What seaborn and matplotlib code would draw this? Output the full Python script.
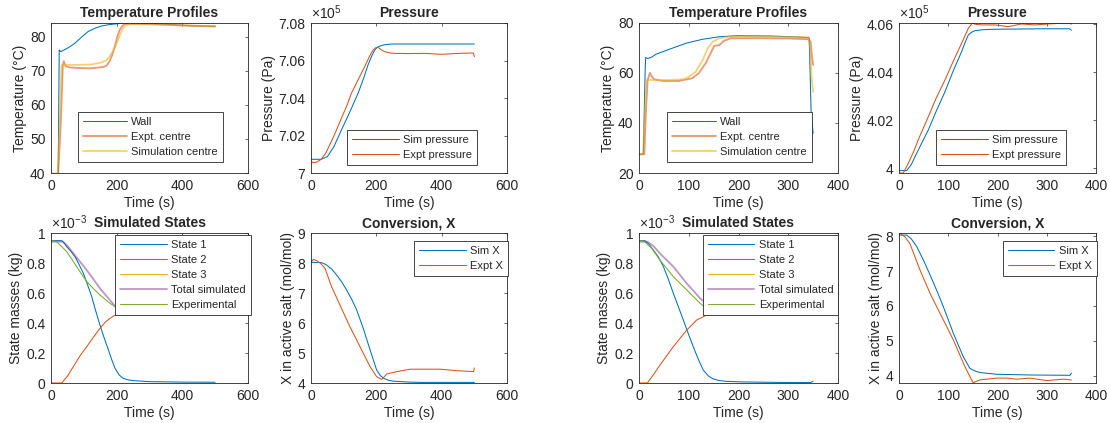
import numpy as np
import pandas as pd
import matplotlib
matplotlib.use('Agg')
import matplotlib.pyplot as plt
import seaborn as sns
from matplotlib.ticker import FuncFormatter

# ---------------- data: run 1 (left half) ----------------
t_wall1 = [0, 22, 25, 30, 50, 72, 90, 113, 135, 153, 175, 194, 224, 260, 300, 350, 400, 450, 500]
T_wall1 = [39.8, 39.8, 76.1, 75.6, 76.6, 78.0, 79.6, 81.5, 82.5, 83.1, 83.5, 83.7, 84.0, 84.0, 83.9, 83.6, 83.3, 83.1, 83.0]
t_exc1 = [0, 22, 30, 36, 39, 44, 55, 80, 120, 160, 170, 178, 186, 194, 202, 209, 216, 224, 240, 300, 400, 500]
T_exc1 = [39.8, 39.8, 55.0, 71.5, 72.8, 71.4, 71.0, 70.8, 70.7, 71.1, 71.6, 72.7, 74.5, 77.0, 80.0, 81.9, 83.0, 83.7, 83.8, 83.7, 83.3, 83.0]
t_sic1 = [0, 20, 27, 32, 40, 80, 120, 153, 168, 178, 190, 204, 212, 219, 228, 240, 300, 400, 500]
T_sic1 = [39.8, 39.8, 55.0, 71.7, 71.7, 71.7, 71.8, 72.4, 73.0, 74.1, 76.0, 79.0, 81.0, 82.4, 83.3, 83.7, 83.6, 83.3, 83.0]

t_simP1 = [0, 31, 50, 70, 93, 120, 144, 160, 174.5, 185, 195, 203, 210.6, 225, 246, 300, 400, 500]
simP1 = np.array([7.0073, 7.0073, 7.0087, 7.0140, 7.0229, 7.0330, 7.0425, 7.0500, 7.0576, 7.0620,
                  7.0656, 7.0670, 7.0677, 7.0684, 7.0688, 7.0688, 7.0688, 7.0688]) * 1e5
t_expP1 = [0, 5, 11, 20, 31, 45, 60, 72, 93, 110, 123.5, 145, 164.3, 180, 190, 198, 205.5, 215, 226,
           240, 257, 300, 349, 400, 451, 497, 500]
expP1 = np.array([7.0062, 7.0057, 7.0055, 7.0060, 7.0073, 7.0105, 7.0160, 7.0205, 7.0292, 7.0360, 7.0425,
                  7.0500, 7.0567, 7.0625, 7.0656, 7.0668, 7.0670, 7.0657, 7.0647, 7.0641, 7.0638, 7.0637,
                  7.0638, 7.0633, 7.0638, 7.0640, 7.0620]) * 1e5

t_s1_1 = [0, 32.5, 40, 47.7, 60, 73, 85, 98.5, 111, 124, 136, 149, 162, 175, 185, 195, 207, 220, 235, 250, 300, 400, 500]
s1_1 = np.array([0.949, 0.949, 0.935, 0.909, 0.88, 0.842, 0.792, 0.731, 0.657, 0.576, 0.482, 0.387, 0.30, 0.22,
                 0.155, 0.098, 0.055, 0.031, 0.021, 0.016, 0.009, 0.006, 0.005]) * 1e-3
t_s2_1 = [0, 32.5, 50, 68, 88, 108.8, 129, 149, 165, 179.5, 195, 205, 220, 250, 300, 500]
s2_1 = np.array([0, 0, 0.045, 0.109, 0.18, 0.242, 0.305, 0.364, 0.405, 0.431, 0.452, 0.462, 0.475, 0.488, 0.494, 0.496]) * 1e-3
t_s3_1 = [0, 250, 500]
s3_1 = np.array([0, 0, 0]) * 1e-3
t_tot1 = [0, 35, 50, 68, 88, 108.8, 129, 149, 165, 179.5, 195, 210, 230, 260, 300, 400, 500]
tot1 = np.array([0.942, 0.942, 0.915, 0.864, 0.81, 0.753, 0.692, 0.631, 0.59, 0.553, 0.512, 0.505, 0.502, 0.50, 0.50, 0.50, 0.50]) * 1e-3
t_exm1 = [0, 17, 30, 47.7, 63, 78, 93, 108.8, 129, 149, 165, 179.5, 195, 210, 216, 232, 263, 304, 355, 400, 447, 500]
exm1 = np.array([0.951, 0.942, 0.915, 0.876, 0.826, 0.776, 0.726, 0.676, 0.63, 0.587, 0.558, 0.531, 0.509, 0.49,
                 0.485, 0.5, 0.51, 0.52, 0.52, 0.52, 0.515, 0.51]) * 1e-3

t_simX1 = [0, 27.5, 38, 48, 63, 78.5, 94, 109, 125, 140, 160, 181, 201, 212, 222, 237, 252.6, 300, 334, 400, 500]
simX1 = [8.02, 8.02, 7.99, 7.93, 7.8, 7.6, 7.37, 7.1, 6.78, 6.43, 5.82, 5.1, 4.43, 4.25, 4.16, 4.09, 4.06, 4.03, 4.02, 4.02, 4.02]
t_expX1 = [0, 7, 17, 30, 43, 63, 88.6, 119, 150, 181, 201, 216.6, 232, 263, 304, 355, 396, 447, 498, 500]
expX1 = [8.02, 8.12, 8.08, 7.98, 7.82, 7.21, 6.6, 5.88, 5.21, 4.54, 4.21, 4.12, 4.3, 4.38, 4.46, 4.46, 4.46, 4.41, 4.38, 4.5]

# ---------------- data: run 2 (right half) ----------------
t_wall2 = [0, 8.7, 12.5, 13.4, 17.4, 25, 34, 61, 94.5, 128, 161.5, 195, 262, 320, 342, 344, 346, 350]
T_wall2 = [27.5, 27.5, 62.0, 66.2, 65.8, 66.3, 67.5, 69.5, 71.9, 73.5, 74.5, 74.9, 74.8, 74.4, 74.1, 60.0, 44.0, 35.9]
t_exc2 = [0, 10.7, 14, 17.4, 22, 26, 30.5, 47, 80, 107, 120, 134, 144, 151, 156, 161.5, 171, 185, 250, 300, 341, 345, 348, 350]
T_exc2 = [27.5, 27.5, 45.0, 57.2, 60.1, 58.5, 57.5, 56.8, 56.8, 57.9, 59.9, 63.9, 67.9, 70.8, 71.0, 71.2, 72.9, 73.9,
          73.9, 73.8, 73.5, 72.5, 66.0, 63.2]
t_sic2 = [0, 8, 12, 15, 30, 60, 90, 100, 114, 128, 138, 148, 161.5, 181, 250, 340, 344, 347, 350]
T_sic2 = [27.5, 27.5, 45.0, 57.2, 57.2, 57.2, 57.5, 58.5, 60.5, 65.2, 69.9, 72.5, 73.9, 74.5, 74.5, 74.3, 70.0, 58.0, 52.5]

t_simP2 = [0, 15.6, 25, 32.5, 45, 59.6, 75, 93.4, 110, 127.2, 135, 140.7, 147, 154, 170, 195, 250, 296, 346, 350]
simP2 = np.array([3.999, 3.999, 4.0015, 4.0048, 4.0100, 4.016, 4.0235, 4.0319, 4.0405, 4.0486, 4.0528, 4.0555,
                  4.0566, 4.0573, 4.0577, 4.0579, 4.0580, 4.0581, 4.0581, 4.0575]) * 1e5
t_expP2 = [0, 8.8, 18.9, 30, 39, 59.6, 75, 93.4, 110, 127.2, 140.7, 148.8, 155, 167.7, 195, 222, 249, 276, 303, 330, 347, 350]
expP2 = np.array([3.998, 3.998, 4.0021, 4.0070, 4.0118, 4.0215, 4.0290, 4.0368, 4.0445, 4.0521, 4.0583, 4.0604,
                  4.0600, 4.0597, 4.0597, 4.0590, 4.0601, 4.0597, 4.0601, 4.0604, 4.0604, 4.0600]) * 1e5

t_s1_2 = [0, 12, 20, 28.8, 39, 49, 59, 69, 79, 89, 99, 109, 119, 129, 139, 149, 162, 176, 210, 280, 345, 350]
s1_2 = np.array([0.949, 0.949, 0.925, 0.887, 0.84, 0.776, 0.692, 0.598, 0.51, 0.42, 0.33, 0.242, 0.16, 0.087,
                 0.048, 0.027, 0.016, 0.011, 0.007, 0.004, 0.003, 0.012]) * 1e-3
t_s2_2 = [0, 16.8, 30, 42.2, 69, 96, 116, 136, 150, 170, 200, 250, 350]
s2_2 = np.array([0, 0, 0.06, 0.12, 0.242, 0.353, 0.42, 0.453, 0.468, 0.48, 0.485, 0.487, 0.488]) * 1e-3
t_s3_2 = [0, 175, 350]
s3_2 = np.array([0, 0, 0]) * 1e-3
t_tot2 = [0, 17, 30, 42, 69, 96, 123, 143, 156, 170, 200, 250, 350]
tot2 = np.array([0.942, 0.942, 0.91, 0.864, 0.776, 0.664, 0.564, 0.508, 0.49, 0.485, 0.49, 0.49, 0.49]) * 1e-3
t_exm2 = [0, 10, 25, 42, 69, 96, 123, 143, 150, 156, 165, 200, 250, 300, 350]
exm2 = np.array([0.95, 0.945, 0.9, 0.82, 0.709, 0.62, 0.531, 0.476, 0.468, 0.466, 0.47, 0.475, 0.475, 0.473, 0.472]) * 1e-3

t_simX2 = [0, 15.6, 25, 36, 50, 63, 77, 90, 110.5, 130.6, 144, 155, 164.6, 198.5, 266, 347, 350]
simX2 = [8.03, 8.03, 7.92, 7.7, 7.3, 6.89, 6.43, 5.98, 5.21, 4.54, 4.21, 4.13, 4.09, 4.04, 4.02, 4.01, 4.07]
t_expX2 = [0, 5, 12, 22, 42.6, 63, 90, 110.5, 130.6, 144, 150.7, 164.6, 198.5, 219, 239, 266, 300, 334, 347, 350]
expX2 = [8.09, 8.05, 7.98, 7.79, 7.03, 6.36, 5.6, 5.02, 4.36, 3.97, 3.80, 3.88, 3.93, 3.93, 3.90, 3.93, 3.86, 3.9, 3.88, 3.88]

# ---------------- style ----------------
sns.set_style('white')
plt.rcParams['font.family'] = ['Liberation Sans', 'DejaVu Sans']
plt.rcParams['mathtext.fontset'] = 'custom'
plt.rcParams['mathtext.rm'] = 'Liberation Sans'
plt.rcParams['mathtext.it'] = 'Liberation Sans:italic'
plt.rcParams['mathtext.bf'] = 'Liberation Sans:bold'

BLUE = '#0072BD'; ORANGE = '#D95319'; YELLOW = '#EDB120'; PURPLE = '#7E2F8E'; GREEN = '#77AC30'
AX = '#262626'
W, H = 1110, 423

fig = plt.figure(figsize=(W / 100, H / 100), dpi=100)


def px_axes(x0, x1, y0, y1):
    return fig.add_axes([x0 / W, 1 - y1 / H, (x1 - x0) / W, (y1 - y0) / H])


def draw(ax, t, v, color, label, lw=0.75, alpha=1.0):
    df = pd.DataFrame({'t': t, 'v': np.asarray(v, dtype=float)})
    sns.lineplot(data=df, x='t', y='v', ax=ax, color=color, label=label,
                 linewidth=lw, alpha=alpha, sort=False, estimator=None)


def style(ax, xlim, xticks, ylim, yticks, title, ylabel, scale=None, exp_label=None):
    ax.set_xlim(xlim); ax.set_xticks(xticks)
    ax.set_ylim(ylim); ax.set_yticks(yticks)
    ax.tick_params(direction='in', top=True, right=True, length=2.5, width=0.5,
                   colors=AX, labelsize=10, pad=4)
    for s in ax.spines.values():
        s.set_visible(True); s.set_color(AX); s.set_linewidth(0.6)
    ax.set_xlabel('Time (s)', fontsize=10, color=AX, labelpad=2.5)
    ax.set_ylabel(ylabel, fontsize=10, color=AX, labelpad=2)
    ax.set_title(title, fontsize=10, fontweight='bold', pad=4)
    if scale is not None:
        ax.yaxis.set_major_formatter(FuncFormatter(lambda v, p: '%g' % round(v / scale, 6)))
    else:
        ax.yaxis.set_major_formatter(FuncFormatter(lambda v, p: '%g' % round(v, 6)))
    ax.xaxis.set_major_formatter(FuncFormatter(lambda v, p: '%g' % v))
    if exp_label:
        ax.text(0.0, 1.01, exp_label, transform=ax.transAxes, fontsize=10,
                color=AX, va='bottom', ha='left')


def legend(ax, x0, y0, hl=3.6):
    leg = ax.legend(loc='upper left', bbox_to_anchor=(x0 / W, 1 - y0 / H),
                    bbox_transform=fig.transFigure, borderaxespad=0, frameon=True,
                    fancybox=False, framealpha=1, edgecolor=AX, fontsize=8,
                    handlelength=hl, handletextpad=0.4, labelspacing=0.45, borderpad=0.45)
    leg.get_frame().set_linewidth(0.6)
    for t in leg.get_texts():
        t.set_color(AX)


cols = [(51, 248), (311, 507), (639, 838), (899, 1096)]
top_row = (23, 173)
bot_row = (233, 383)

runs = [
    dict(tw=t_wall1, Tw=T_wall1, te=t_exc1, Te=T_exc1, ts=t_sic1, Ts=T_sic1, Tlim=(40, 84), Tticks=[40, 50, 60, 70, 80],
         tsp=t_simP1, sp=simP1, tep=t_expP1, ep=expP1, Plim=(7.0e5, 7.08e5), Pticks=[7.0e5, 7.02e5, 7.04e5, 7.06e5, 7.08e5],
         m1=(t_s1_1, s1_1), m2=(t_s2_1, s2_1), m3=(t_s3_1, s3_1), mt=(t_tot1, tot1), me=(t_exm1, exm1),
         sx=(t_simX1, simX1), ex=(t_expX1, expX1), Xlim=(4, 9), Xticks=[4, 5, 6, 7, 8, 9],
         xlim=(0, 600), xticks=[0, 200, 400, 600],
         legT=(78.3, 111.7), legP=(347.3, 130), legM=(115, 235), legX=(414, 240.7)),
    dict(tw=t_wall2, Tw=T_wall2, te=t_exc2, Te=T_exc2, ts=t_sic2, Ts=T_sic2, Tlim=(20, 80), Tticks=[20, 40, 60, 80],
         tsp=t_simP2, sp=simP2, tep=t_expP2, ep=expP2, Plim=(3.998e5, 4.0605e5), Pticks=[4.0e5, 4.02e5, 4.04e5, 4.06e5],
         m1=(t_s1_2, s1_2), m2=(t_s2_2, s2_2), m3=(t_s3_2, s3_2), mt=(t_tot2, tot2), me=(t_exm2, exm2),
         sx=(t_simX2, simX2), ex=(t_expX2, expX2), Xlim=(3.79, 8.09), Xticks=[4, 5, 6, 7, 8],
         xlim=(0, 400), xticks=[0, 100, 200, 300, 400],
         legT=(667.3, 111.7), legP=(936, 130), legM=(702.7, 235), legX=(1002.7, 240.7)),
]

for i, r in enumerate(runs):
    cT = cols[2 * i]
    cP = cols[2 * i + 1]

    # Temperature profiles
    ax = px_axes(cT[0], cT[1], *top_row)
    draw(ax, r['tw'], r['Tw'], BLUE, 'Wall')
    draw(ax, r['te'], r['Te'], ORANGE, 'Expt. centre', lw=1.3, alpha=0.6)
    draw(ax, r['ts'], r['Ts'], YELLOW, 'Simulation centre', lw=1.3, alpha=0.6)
    style(ax, r['xlim'], r['xticks'], r['Tlim'], r['Tticks'], 'Temperature Profiles', 'Temperature (°C)')
    legend(ax, *r['legT'], hl=3.9)

    # Pressure
    ax = px_axes(cP[0], cP[1], *top_row)
    draw(ax, r['tsp'], r['sp'], BLUE, 'Sim pressure')
    draw(ax, r['tep'], r['ep'], ORANGE, 'Expt pressure')
    style(ax, r['xlim'], r['xticks'], r['Plim'], r['Pticks'], 'Pressure', 'Pressure (Pa)',
          scale=1e5, exp_label=r'$\times\mathregular{10^{5}}$')
    legend(ax, *r['legP'], hl=4.2)

    # Simulated states
    ax = px_axes(cT[0], cT[1], *bot_row)
    draw(ax, *r['m1'], BLUE, 'State 1')
    draw(ax, *r['m2'], ORANGE, 'State 2')
    draw(ax, *r['m3'], YELLOW, 'State 3')
    draw(ax, *r['mt'], PURPLE, 'Total simulated', lw=1.3, alpha=0.5)
    draw(ax, *r['me'], GREEN, 'Experimental')
    style(ax, r['xlim'], r['xticks'], (0, 1e-3), [0, 0.2e-3, 0.4e-3, 0.6e-3, 0.8e-3, 1e-3],
          'Simulated States', 'State masses (kg)', scale=1e-3, exp_label=r'$\times\mathregular{10^{-3}}$')
    legend(ax, *r['legM'], hl=4.2)

    # Conversion
    ax = px_axes(cP[0], cP[1], *bot_row)
    draw(ax, *r['sx'], BLUE, 'Sim X')
    draw(ax, *r['ex'], ORANGE, 'Expt X')
    style(ax, r['xlim'], r['xticks'], r['Xlim'], r['Xticks'], 'Conversion, X', 'X in active salt (mol/mol)')
    legend(ax, *r['legX'], hl=4.2)

fig.savefig('out.png', dpi=100, facecolor='white')
